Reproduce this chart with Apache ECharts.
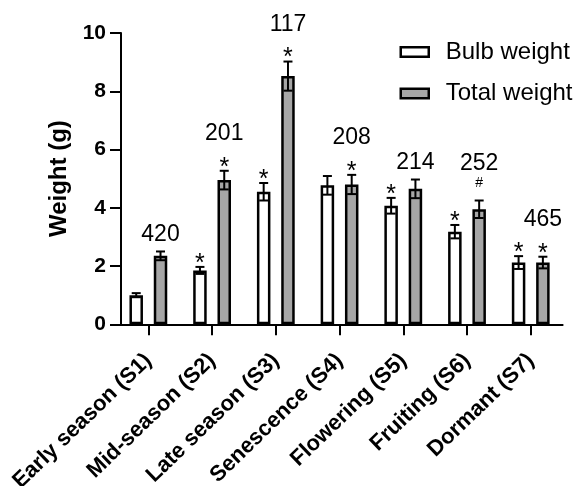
<!DOCTYPE html>
<html><head><meta charset="utf-8">
<script src="https://cdn.jsdelivr.net/npm/echarts@6/dist/echarts.min.js"></script>
<style>html,body{margin:0;padding:0;background:#fff}#c{width:586px;height:486px}</style>
</head><body><div id="c"></div>
<script>
const categories = ['Early season (S1)','Mid-season (S2)','Late season (S3)','Senescence (S4)','Flowering (S5)','Fruiting (S6)','Dormant (S7)'];
const bulbWeight = [1.0, 1.85, 4.55, 4.77, 4.07, 3.18, 2.12];
const bulbError  = [0.07, 0.12, 0.30, 0.32, 0.27, 0.23, 0.22];
const totalWeight = [2.35, 4.95, 8.52, 4.80, 4.65, 3.95, 2.12];
const totalError  = [0.15, 0.32, 0.50, 0.33, 0.32, 0.30, 0.20];
const bulbMarks  = ['', '*', '*', '', '*', '*', '*'];
const totalMarks = ['', '*', '*', '*', '', '#', '*'];
const groupCounts = ['420','201','117','208','214','252','465'];
const yTicks = [0, 2, 4, 6, 8, 10];
const seriesNames = ['Bulb weight', 'Total weight'];

const FONT = '"Liberation Sans", Arial, Helvetica, sans-serif';
const BAR_W = 13.5, GAP_RATIO = 0.80;
const BAR_OFF = (BAR_W * (1 + GAP_RATIO)) / 2;
const CAP = 4.5;

function makeErr(sign, values, errors, marks, counts) {
  const data = categories.map((c, i) => [i, values[i], errors[i]]);
  return {
    type: 'custom', z: 5, silent: true, clip: false,
    encode: { x: 0, y: 1 },
    data: data,
    renderItem: function (params, api) {
      const i = api.value(0), v = api.value(1), e = api.value(2);
      const x = api.coord([i, v])[0] + sign * BAR_OFF;
      const top = api.coord([i, v + e])[1];
      const bot = api.coord([i, v - e])[1];
      const ls = { stroke: '#000', lineWidth: 2 };
      const ch = [
        { type: 'line', shape: { x1: x, y1: top, x2: x, y2: bot }, style: ls },
        { type: 'line', shape: { x1: x - CAP, y1: top, x2: x + CAP, y2: top }, style: ls },
        { type: 'line', shape: { x1: x - CAP, y1: bot, x2: x + CAP, y2: bot }, style: ls }
      ];
      const m = marks[i];
      if (m === '*') {
        ch.push({ type: 'text', style: { x: x, y: top - 3, text: '*', fill: '#000',
          font: '25px ' + FONT, align: 'center', verticalAlign: 'middle' } });
      } else if (m === '#') {
        ch.push({ type: 'text', style: { x: x, y: top - 17, text: '#', fill: '#000',
          font: '14px ' + FONT, align: 'center', verticalAlign: 'middle' } });
      }
      if (counts) {
        const dy = m ? 37 : 17;
        ch.push({ type: 'text', style: { x: x, y: top - dy, text: counts[i], fill: '#000',
          font: '23px ' + FONT, align: 'center', verticalAlign: 'middle' } });
      }
      return { type: 'group', children: ch };
    }
  };
}

const chart = echarts.init(document.getElementById('c'), null, { renderer: 'canvas' });
chart.setOption({
  animation: false,
  backgroundColor: '#fff',
  grid: { left: 116.5, right: 23.4, top: 33, bottom: 161.7, containLabel: false, outerBoundsMode: 'none' },
  legend: {
    orient: 'vertical', left: 399.5, top: 40, padding: 0,
    itemWidth: 28, itemHeight: 9.5, itemGap: 17.5, icon: 'rect',
    itemStyle: { borderColor: '#000', borderWidth: 2.5 },
    textStyle: { fontSize: 24, fontFamily: FONT, color: '#000', padding: [0, 0, 0, 12] },
    data: seriesNames
  },
  xAxis: {
    type: 'category', data: categories,
    axisLine: { show: true, lineStyle: { color: '#000', width: 2 } },
    axisTick: { show: true, length: 11, alignWithLabel: true, lineStyle: { color: '#000', width: 2 } },
    axisLabel: { rotate: 44, interval: 0, hideOverlap: false, fontSize: 22, fontWeight: 'bold',
      color: '#000', margin: 33, fontFamily: FONT }
  },
  yAxis: {
    type: 'value', min: yTicks[0], max: yTicks[yTicks.length - 1], interval: yTicks[1] - yTicks[0],
    offset: -4.5,
    axisLine: { show: true, lineStyle: { color: '#000', width: 2 } },
    axisTick: { show: true, length: 11, lineStyle: { color: '#000', width: 2 } },
    splitLine: { show: false },
    axisLabel: { fontSize: 21, fontWeight: 'bold', color: '#000', margin: 15, fontFamily: FONT },
    name: 'Weight (g)', nameLocation: 'middle', nameGap: 50,
    nameTextStyle: { fontSize: 24, fontWeight: 'bold', color: '#000', fontFamily: FONT }
  },
  series: [
    { name: seriesNames[0], type: 'bar', data: bulbWeight, barWidth: BAR_W, barGap: (GAP_RATIO * 100) + '%',
      itemStyle: { color: '#ffffff', borderColor: '#000', borderWidth: 2.5 } },
    { name: seriesNames[1], type: 'bar', data: totalWeight, barWidth: BAR_W,
      itemStyle: { color: '#a6a6a6', borderColor: '#000', borderWidth: 2.5 } },
    makeErr(-1, bulbWeight, bulbError, bulbMarks, null),
    makeErr(1, totalWeight, totalError, totalMarks, groupCounts)
  ]
});
</script></body></html>
